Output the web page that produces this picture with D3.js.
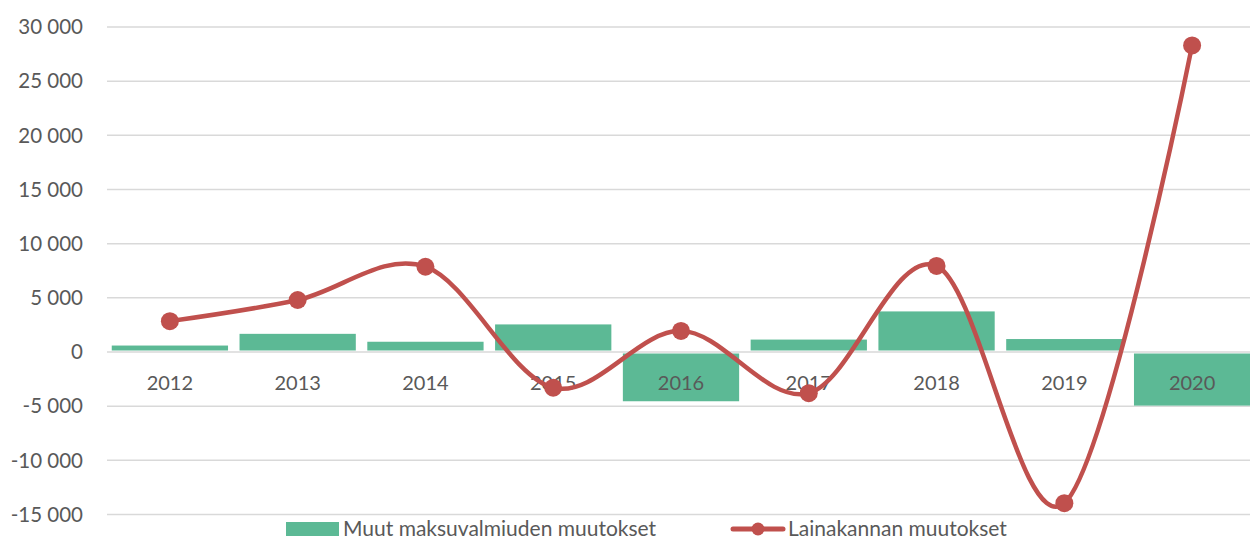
<!DOCTYPE html>
<html>
<head>
<meta charset="utf-8">
<script src="https://cdn.jsdelivr.net/npm/d3@7"></script>
<style>
  body { margin: 0; background: #fff; }
  text { font-family: Lato, "Open Sans", sans-serif; fill: #595959; }
</style>
</head>
<body>
<svg id="chart" width="1250" height="540"></svg>
<script>
const years = ["2012", "2013", "2014", "2015", "2016", "2017", "2018", "2019", "2020"];
// Muut maksuvalmiuden muutokset (bars)
const muut = [550, 1630, 900, 2500, -4500, 1100, 3700, 1150, -4900];
// Lainakannan muutokset (line)
const laina = [2850, 4800, 7870, -3300, 1950, -3800, 7950, -13950, 28300];
const yTicks = [-15000, -10000, -5000, 0, 5000, 10000, 15000, 20000, 25000, 30000];

const width = 1250, height = 540;
const svg = d3.select("#chart");

const x = d3.scaleBand()
    .domain(years)
    .range([106, 1256])
    .paddingInner(0.09)
    .paddingOuter(0.045);

const y = d3.scaleLinear()
    .domain([-15000, 30000])
    .range([514.5, 27]);

const fmt = d => d3.format(",")(d).replace(/,/g, " ").replace("−", "-");

// gridlines
svg.append("g")
  .selectAll("line")
  .data(yTicks)
  .join("line")
    .attr("x1", 107)
    .attr("x2", width)
    .attr("y1", d => y(d))
    .attr("y2", d => y(d))
    .attr("stroke", "#d9d9d9")
    .attr("stroke-width", 1.5);

// y labels
svg.append("g")
  .selectAll("text")
  .data(yTicks)
  .join("text")
    .attr("x", 83)
    .attr("y", d => y(d))
    .attr("dy", "0.35em")
    .attr("text-anchor", "end")
    .attr("font-size", 20.5)
    .text(fmt);

// bars
svg.append("g")
  .selectAll("rect")
  .data(years)
  .join("rect")
    .attr("x", d => x(d))
    .attr("width", x.bandwidth())
    .attr("y", (d, i) => y(Math.max(0, muut[i])))
    .attr("height", (d, i) => Math.abs(y(muut[i]) - y(0)) - 1)
    .attr("transform", (d, i) => muut[i] < 0 ? "translate(0,1.5)" : "translate(0,-0.5)")
    .attr("fill", "#5cb995");

// category labels
svg.append("g")
  .selectAll("text")
  .data(years)
  .join("text")
    .attr("x", d => x(d) + x.bandwidth() / 2)
    .attr("y", y(0) + 31)
    .attr("dy", "0.35em")
    .attr("text-anchor", "middle")
    .attr("font-size", 20)
    .text(d => d);

// line
const pts = years.map((d, i) => [x(d) + x.bandwidth() / 2, y(laina[i])]);
svg.append("path")
    .attr("d", d3.line().curve(d3.curveCardinal.tension(0))(pts))
    .attr("fill", "none")
    .attr("stroke", "#c0504d")
    .attr("stroke-width", 4.5)
    .attr("stroke-linecap", "round");

svg.append("g")
  .selectAll("circle")
  .data(pts)
  .join("circle")
    .attr("cx", d => d[0])
    .attr("cy", d => d[1])
    .attr("r", 9)
    .attr("fill", "#c0504d");

// legend
const lg = svg.append("g");
lg.append("rect")
    .attr("x", 286).attr("y", 522)
    .attr("width", 53).attr("height", 14)
    .attr("fill", "#5cb995");
lg.append("text")
    .attr("x", 343).attr("y", 529)
    .attr("dy", "0.33em")
    .attr("font-size", 21)
    .text("Muut maksuvalmiuden muutokset");
lg.append("line")
    .attr("x1", 733).attr("x2", 783)
    .attr("y1", 529).attr("y2", 529)
    .attr("stroke", "#c0504d")
    .attr("stroke-width", 5)
    .attr("stroke-linecap", "round");
lg.append("circle")
    .attr("cx", 758).attr("cy", 529).attr("r", 6.5)
    .attr("fill", "#c0504d");
lg.append("text")
    .attr("x", 788).attr("y", 529)
    .attr("dy", "0.33em")
    .attr("font-size", 21)
    .text("Lainakannan muutokset");
</script>
</body>
</html>
